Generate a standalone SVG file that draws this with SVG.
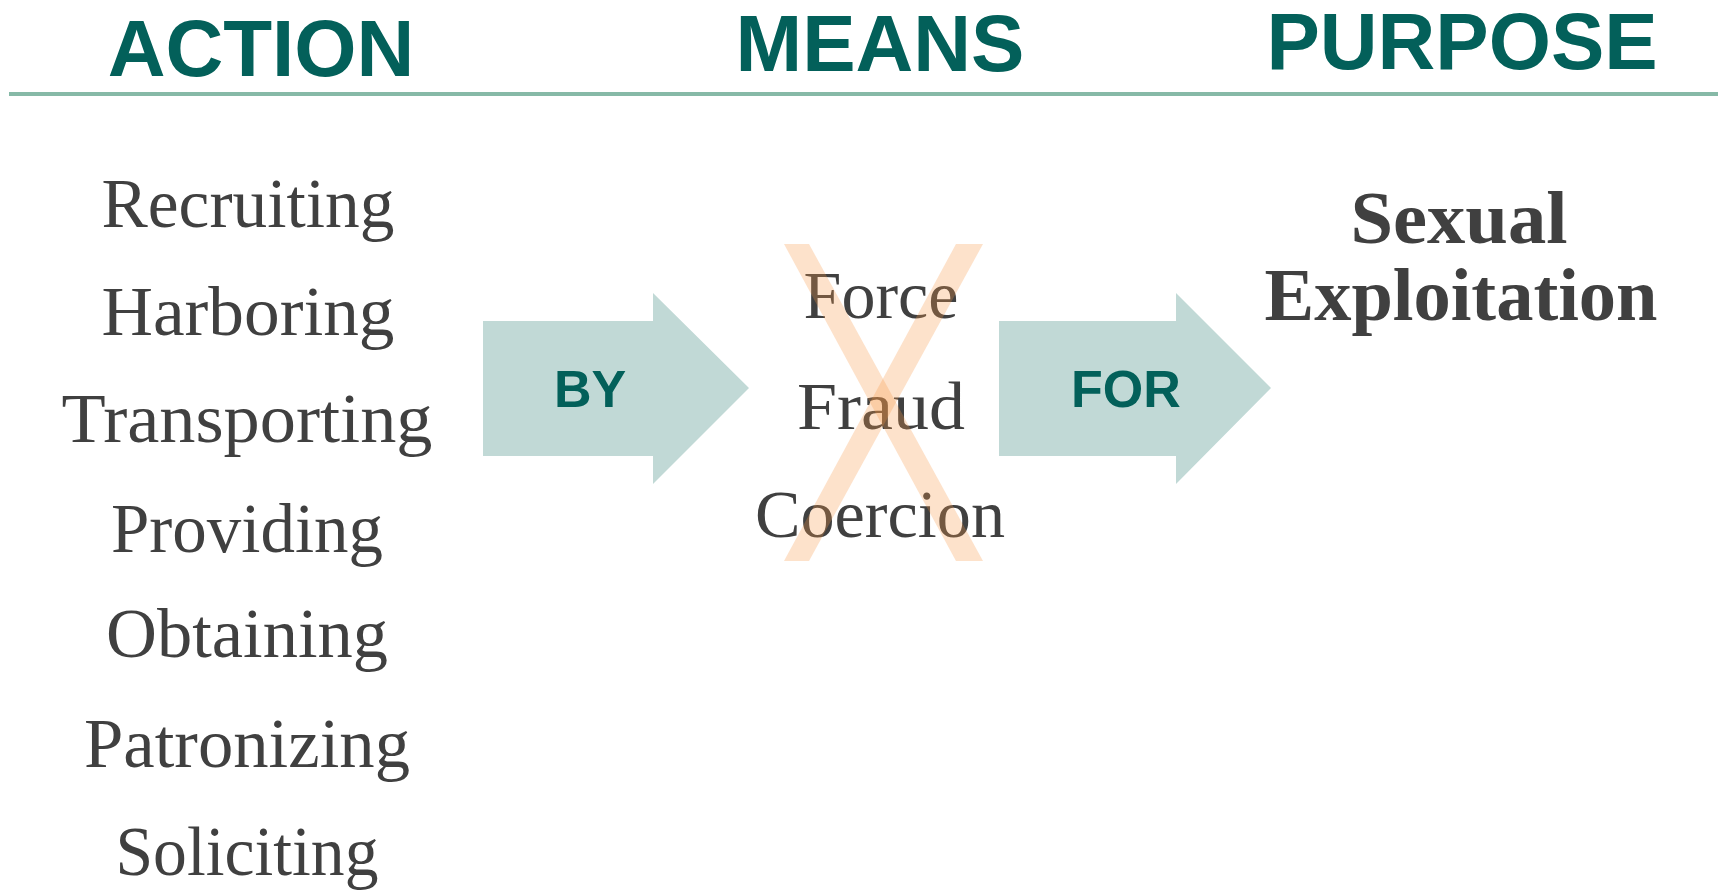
<svg xmlns="http://www.w3.org/2000/svg" width="1718" height="890" viewBox="0 0 1718 890">
<style>
.hd{font-family:"Liberation Sans",Arial,sans-serif;font-weight:bold;font-size:80px;fill:#03605A;text-anchor:middle}
.act{font-family:"Liberation Serif","Times New Roman",serif;font-size:70px;fill:#404040;text-anchor:middle}
.mn{font-family:"Liberation Serif","Times New Roman",serif;font-size:68px;fill:#404040;text-anchor:middle}
.pur{font-family:"Liberation Serif","Times New Roman",serif;font-weight:bold;font-size:74px;fill:#404040;text-anchor:middle}
.arr{fill:#C1D9D6}
.lbl{font-family:"Liberation Sans",Arial,sans-serif;font-weight:bold;font-size:52px;fill:#03605A;text-anchor:middle}
.x{fill:#F79646;fill-opacity:0.28}
</style>
<rect width="1718" height="890" fill="#FFFFFF"/>
<g id="headers">
<text class="hd" x="261" y="76">ACTION</text>
<text class="hd" x="880" y="71">MEANS</text>
<text class="hd" x="1462" y="69">PURPOSE</text>
<rect x="9" y="92" width="1709" height="4" fill="#86B9A7"/>
</g>
<g id="action">
<text class="act" x="248" y="227" textLength="293" lengthAdjust="spacingAndGlyphs">Recruiting</text>
<text class="act" x="248" y="335" textLength="293" lengthAdjust="spacingAndGlyphs">Harboring</text>
<text class="act" x="247" y="442" textLength="371" lengthAdjust="spacingAndGlyphs">Transporting</text>
<text class="act" x="247" y="552" textLength="272" lengthAdjust="spacingAndGlyphs">Providing</text>
<text class="act" x="247" y="657" textLength="282" lengthAdjust="spacingAndGlyphs">Obtaining</text>
<text class="act" x="247" y="767" textLength="326" lengthAdjust="spacingAndGlyphs">Patronizing</text>
<text class="act" x="247" y="875" textLength="263" lengthAdjust="spacingAndGlyphs">Soliciting</text>
</g>
<g id="connectors">
<g id="arrow-by">
<polygon class="arr" points="483,321 653,321 653,293 749,388 653,484 653,456 483,456"/>
<text class="lbl" x="590" y="407">BY</text>
</g>
<g id="arrow-for">
<polygon class="arr" points="999,321 1176,321 1176,293 1271,388 1176,484 1176,456 999,456"/>
<text class="lbl" x="1126" y="407">FOR</text>
</g>
</g>
<g id="means">
<text class="mn" x="881" y="318">Force</text>
<text class="mn" x="881" y="429" textLength="168" lengthAdjust="spacingAndGlyphs">Fraud</text>
<text class="mn" x="880" y="537" textLength="250" lengthAdjust="spacingAndGlyphs">Coercion</text>
<polygon class="x" points="784,244 809,244 983,561 956,561"/>
<polygon class="x" points="956,244 983,244 809,561 784,561"/>
</g>
<g id="purpose">
<text class="pur" x="1459" y="243" textLength="217" lengthAdjust="spacingAndGlyphs">Sexual</text>
<text class="pur" x="1461" y="320" textLength="393" lengthAdjust="spacingAndGlyphs">Exploitation</text>
</g>
</svg>
